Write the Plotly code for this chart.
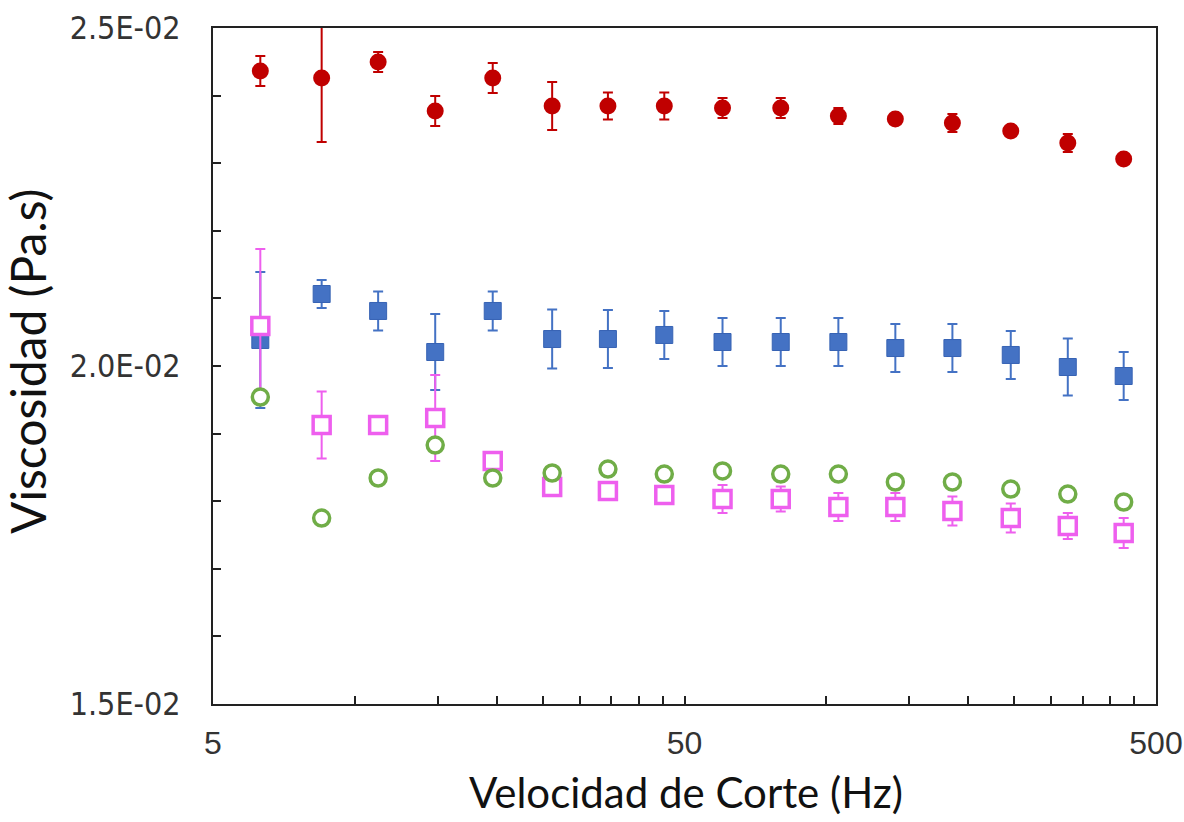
import plotly.graph_objects as go

# Shear rate (Hz)
shear_rate = [6.3, 8.5, 11.2, 14.8, 19.6, 26.2, 34.4, 45.3, 60.2, 80.0,
              106, 140, 185, 246, 325, 427]

# Viscosity (Pa.s) and standard deviations per sample
red_visc = [0.024364, 0.024260, 0.024497, 0.023772, 0.024260, 0.023846, 0.023846, 0.023846,
            0.023817, 0.023817, 0.023698, 0.023654, 0.023595, 0.023476, 0.023299, 0.023062]
red_err = [0.000222, 0.000947, 0.000148, 0.000222, 0.000222, 0.000355, 0.000200, 0.000200,
           0.000148, 0.000148, 0.000118, 0.000074, 0.000133, 0.000074, 0.000133, 0.000044]

blue_visc = [0.020385, 0.021065, 0.020814, 0.020207, 0.020814, 0.020399, 0.020399, 0.020459,
             0.020355, 0.020355, 0.020355, 0.020266, 0.020266, 0.020163, 0.019985, 0.019852]
blue_err = [0.001006, 0.000207, 0.000288, 0.000562, 0.000288, 0.000436, 0.000429, 0.000355,
            0.000355, 0.000355, 0.000355, 0.000355, 0.000355, 0.000355, 0.000422, 0.000355]

green_visc = [0.019541, 0.017751, 0.018343, 0.018831, 0.018343, 0.018417, 0.018476, 0.018402,
              0.018447, 0.018402, 0.018402, 0.018284, 0.018284, 0.018180, 0.018106, 0.017988]

pink_visc = [0.020592, 0.019127, 0.019127, 0.019231, 0.018595, 0.018210, 0.018151, 0.018092,
             0.018033, 0.018033, 0.017914, 0.017914, 0.017855, 0.017751, 0.017633, 0.017530]
pink_err = [0.001139, 0.000496, 0.000000, 0.000636, 0.000000, 0.000089, 0.000118, 0.000118,
            0.000207, 0.000185, 0.000207, 0.000207, 0.000214, 0.000214, 0.000192, 0.000222]

# Axis ticks
x_tickvals = [5, 10, 15, 20, 25, 30, 35, 40, 45, 50,
              100, 150, 200, 250, 300, 350, 400, 450, 500]
x_ticktext = ["5"] + [""] * 8 + ["50"] + [""] * 8 + ["500"]
y_tickvals = [0.015, 0.020, 0.025]
y_ticktext = ["1.5E-02", "2.0E-02", "2.5E-02"]

x_title = "Velocidad de Corte (Hz)"
y_title = "Viscosidad (Pa.s)"

fig = go.Figure()


def err(vals, color):
    return dict(type="data", array=vals, visible=True, color=color, thickness=2, width=5)


fig.add_trace(go.Scatter(
    x=shear_rate, y=blue_visc, mode="markers",
    marker=dict(symbol="square", size=17, color="#4472C4", line=dict(color="#3763B4", width=1)),
    error_y=err(blue_err, "#4472C4"), showlegend=False))

fig.add_trace(go.Scatter(
    x=shear_rate, y=pink_visc, mode="markers",
    marker=dict(symbol="square", size=17, color="white", line=dict(color="#EE5FEE", width=3.5)),
    error_y=err(pink_err, "#EE5FEE"), showlegend=False))

fig.add_trace(go.Scatter(
    x=shear_rate, y=green_visc, mode="markers",
    marker=dict(symbol="circle", size=16, color="white", line=dict(color="#70AD47", width=3.5)),
    showlegend=False))

fig.add_trace(go.Scatter(
    x=shear_rate, y=red_visc, mode="markers",
    marker=dict(symbol="circle", size=17, color="#C00000"),
    error_y=err(red_err, "#C00000"), showlegend=False))

x_tick_font = dict(family="Liberation Sans, Arial, sans-serif", size=32, color="#333333")
y_tick_font = dict(family="Liberation Sans Narrow, DejaVu Sans Condensed, Arial, sans-serif",
                   size=32, color="#333333")
title_font = dict(family="Lato, Open Sans, sans-serif", color="#111111")

fig.update_xaxes(
    type="log", range=[0.69897, 2.69897],
    tickmode="array", tickvals=x_tickvals, ticktext=x_ticktext,
    ticks="inside", ticklen=8, tickwidth=1.5, tickcolor="#222222",
    tickfont=x_tick_font, ticklabelstandoff=10,
    showline=True, linecolor="#222222", linewidth=2, mirror=True,
    showgrid=False, zeroline=False,
)
fig.update_yaxes(
    range=[0.015, 0.025],
    tickmode="array", tickvals=y_tickvals, ticktext=y_ticktext,
    ticks="inside", ticklen=8, tickwidth=1.5, tickcolor="#222222",
    minor=dict(dtick=0.001, ticks="inside", ticklen=8, tickwidth=1.5, tickcolor="#222222", showgrid=False),
    tickfont=y_tick_font, ticklabelstandoff=24,
    showline=True, linecolor="#222222", linewidth=2, mirror=True,
    showgrid=False, zeroline=False,
)

# Axis titles placed as annotations for exact positioning
fig.add_annotation(text=x_title, xref="paper", yref="paper", x=0.5016, y=-0.130,
                   xanchor="center", yanchor="middle", showarrow=False,
                   font=dict(title_font, size=42))
fig.add_annotation(text=y_title, xref="paper", yref="paper", x=-0.196, y=0.506,
                   xanchor="center", yanchor="middle", showarrow=False, textangle=-90,
                   font=dict(title_font, size=48))

fig.update_layout(
    width=1184, height=822,
    margin=dict(l=213, r=28, t=28, b=118, autoexpand=False),
    paper_bgcolor="white", plot_bgcolor="white",
)

fig.write_html("out.html")
